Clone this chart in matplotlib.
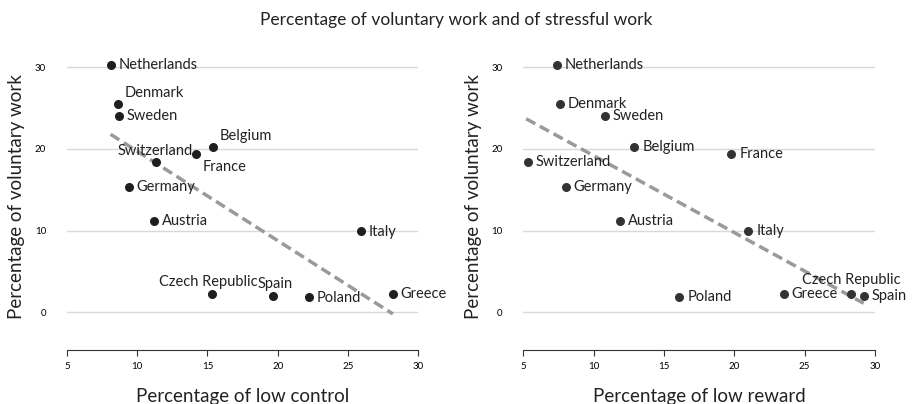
import matplotlib
matplotlib.use("Agg")
import matplotlib.pyplot as plt

plt.rcParams['font.family'] = ['Lato', 'DejaVu Sans']

countries = ['Netherlands', 'Denmark', 'Sweden', 'Switzerland', 'France', 'Belgium',
             'Germany', 'Austria', 'Italy', 'Czech Republic', 'Spain', 'Poland', 'Greece']
voluntary = [30.3, 25.5, 24.0, 18.4, 19.4, 20.2, 15.3, 11.2, 9.9, 2.2, 2.0, 1.9, 2.3]
low_control = [8.1, 8.6, 8.7, 11.3, 14.2, 15.4, 9.4, 11.2, 25.9, 15.3, 19.7, 22.2, 28.2]
low_reward = [7.4, 7.6, 10.8, 5.3, 19.8, 12.9, 8.0, 11.9, 21.0, 28.3, 29.2, 16.1, 23.5]

# trend line end points
trend_control_x = [8.1, 28.2]
trend_control_y = [21.8, -0.2]
trend_reward_x = [5.2, 29.2]
trend_reward_y = [23.7, 1.1]

# label placement: (dx px, dy px, ha, va)
place_control = {
    'Netherlands': (8, 0, 'left', 'center'),
    'Denmark': (7, 4, 'left', 'bottom'),
    'Sweden': (8, 0, 'left', 'center'),
    'Switzerland': (0, 4, 'center', 'bottom'),
    'France': (6, -6, 'left', 'top'),
    'Belgium': (7, 4, 'left', 'bottom'),
    'Germany': (8, 0, 'left', 'center'),
    'Austria': (8, 0, 'left', 'center'),
    'Italy': (8, -1, 'left', 'center'),
    'Czech Republic': (-3, 5, 'center', 'bottom'),
    'Spain': (2, 5, 'center', 'bottom'),
    'Poland': (8, -1, 'left', 'center'),
    'Greece': (8, 0, 'left', 'center'),
}
place_reward = {c: (8, 0, 'left', 'center') for c in countries}
place_reward['Czech Republic'] = (0, 7, 'center', 'bottom')


def draw_panel(ax, xs, trend_x, trend_y, places, xlabel, color):
    ax.plot(trend_x, trend_y, color='#9a9a9a', linestyle=(0, (3, 1.5)), linewidth=2.5, zorder=2)
    ax.scatter(xs, voluntary, s=30, color=color, zorder=3)
    for name, x, y in zip(countries, xs, voluntary):
        dx, dy, ha, va = places[name]
        ax.annotate(name, (x, y), xytext=(dx * 0.72, dy * 0.72), textcoords='offset points',
                    ha=ha, va=va, fontsize=10.5, color='#222222', zorder=4)
    ax.set_xlim(5, 30)
    ax.set_ylim(-4.6, 33)
    ax.set_xticks([5, 10, 15, 20, 25, 30])
    ax.set_yticks([0, 10, 20, 30])
    ax.grid(axis='y', color='#d9d9d9', linewidth=1)
    ax.set_axisbelow(True)
    for side in ['top', 'right', 'left']:
        ax.spines[side].set_visible(False)
    ax.spines['bottom'].set_color('#333333')
    ax.tick_params(axis='y', length=0, labelsize=7, pad=15)
    ax.tick_params(axis='x', length=4, labelsize=7, color='#333333', pad=5)
    ax.set_xlabel(xlabel, fontsize=13.5, labelpad=12, color='#222222')
    ax.set_ylabel('Percentage of voluntary work', fontsize=13.5, color='#222222', labelpad=7)


fig = plt.figure(figsize=(9.13, 4.04), dpi=100)
ax1 = fig.add_axes([0.0734, 0.134, 0.3846, 0.76])
ax2 = fig.add_axes([0.5732, 0.134, 0.3851, 0.76])

draw_panel(ax1, low_control, trend_control_x, trend_control_y, place_control,
           'Percentage of low control', '#1e1e1e')
draw_panel(ax2, low_reward, trend_reward_x, trend_reward_y, place_reward,
           'Percentage of low reward', '#333333')

fig.suptitle('Percentage of voluntary work and of stressful work', fontsize=12.5, y=0.97,
             color='#222222')

fig.savefig('out.png', dpi=100)
